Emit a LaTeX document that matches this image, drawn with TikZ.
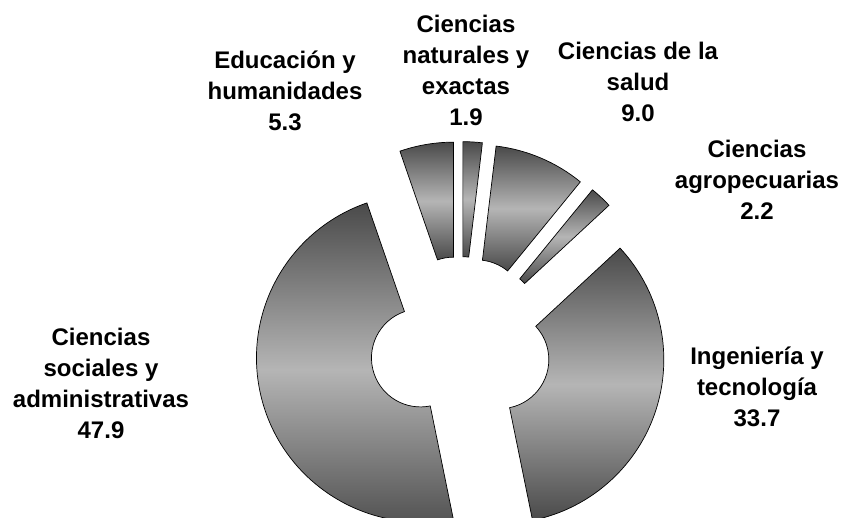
\documentclass[tikz,border=0pt]{standalone}
\usepackage{fontspec}
\setmainfont{Liberation Sans}
\usepackage{tikz}
\usetikzlibrary{positioning}
\definecolor{segdark}{gray}{0.29}
\definecolor{seglight}{gray}{0.71}

\begin{document}
\begin{tikzpicture}[x=1pt, y=1pt, seg/.style={draw=black, line width=0.7pt, top color=segdark, bottom color=segdark, middle color=seglight}, lbl/.style={align=center, inner sep=0pt, font=\fontsize{24}{31}\selectfont\bfseries, anchor=base}]
\useasboundingbox (0,0) rectangle (843,518);
\clip (0,0) rectangle (843,518);
% anillo con todos los sectores separados, desde las 12 en sentido horario
\begin{scope}[shift={(460.4,171)}]
\foreach \ini/\fin in {90/83.16, 83.16/50.76, 50.76/42.84, 42.84/-78.48, -78.48/-250.92, -250.92/-270}{
  \pgfmathsetmacro{\bis}{(\ini+\fin)/2}
  \draw[seg, shift={(\bis:41.4)}] (\ini:49) -- (\ini:164) arc[start angle=\ini, end angle=\fin, radius=164] -- (\fin:49) arc[start angle=\fin, end angle=\ini, radius=49] -- cycle;
}
\end{scope}
% el ancla base queda en la ultima linea
\node (edu) [lbl] at (285,387) {Educación y\\humanidades\\5.3};
\node (nat) [lbl] at (466,392) {Ciencias\\naturales y\\exactas\\1.9};
\node (sal) [lbl] at (638,396) {Ciencias de la\\salud\\9.0};
\node (agr) [lbl] at (757,298) {Ciencias\\agropecuarias\\2.2};
\node (soc) [lbl] at (101,79) {Ciencias\\sociales y\\administrativas\\47.9};
\node (ing) [lbl] at (757,91) {Ingeniería y\\tecnología\\33.7};
\end{tikzpicture}
\end{document}
